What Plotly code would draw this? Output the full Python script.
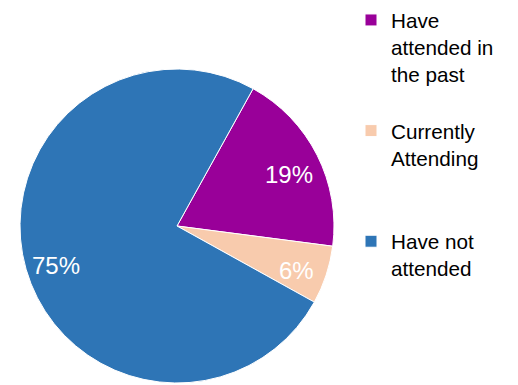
import math
import plotly.graph_objects as go

# Attendance breakdown
categories = ["Have<br>attended in<br>the past", "Currently<br>Attending", "Have not<br>attended"]
shares = [19, 6, 75]
colors = ["#990099", "#F8CBAD", "#2E75B6"]

W, H = 518, 385
ROTATION = 29          # first slice starts 29 degrees clockwise from 12 o'clock
PIE_LEFT, PIE_RIGHT = 20, 334
PIE_TOP, PIE_BOTTOM = 69, 383
LABEL_R = 0.80         # label distance from centre, as a fraction of the radius

# legend entries padded to the same number of lines so they are evenly spaced
n_lines = max(c.count("<br>") + 1 for c in categories) + 1
legend_names = [c + "<br> " * (n_lines - (c.count("<br>") + 1)) for c in categories]

fig = go.Figure(
    go.Pie(
        labels=legend_names,
        values=shares,
        sort=False,
        direction="clockwise",
        rotation=ROTATION,
        marker=dict(colors=colors, line=dict(color="white", width=1)),
        textinfo="none",
        domain=dict(x=[PIE_LEFT / W, PIE_RIGHT / W], y=[1 - PIE_BOTTOM / H, 1 - PIE_TOP / H]),
        hovertemplate="%{label}: %{value}%<extra></extra>",
    )
)

# percentage labels placed along each slice's middle angle
cx = (PIE_LEFT + PIE_RIGHT) / 2
cy = (PIE_TOP + PIE_BOTTOM) / 2
radius = (PIE_RIGHT - PIE_LEFT) / 2
total = sum(shares)
start = 0.0
for v in shares:
    mid = math.radians(ROTATION + 360 * (start + v / 2) / total)
    start += v
    px = cx + LABEL_R * radius * math.sin(mid)
    py = cy - LABEL_R * radius * math.cos(mid)
    fig.add_annotation(
        x=px / W, y=1 - py / H, xref="paper", yref="paper",
        text=f"{v}%", showarrow=False, yshift=-5,
        font=dict(family="Liberation Sans, Arial", size=24, color="white"),
        xanchor="center", yanchor="middle",
    )

fig.update_layout(
    width=W,
    height=H,
    margin=dict(l=0, r=0, t=0, b=0),
    paper_bgcolor="white",
    plot_bgcolor="white",
    showlegend=True,
    legend=dict(
        x=351 / W,
        y=1,
        xanchor="left",
        yanchor="top",
        valign="top",
        font=dict(family="Liberation Sans, Arial", size=20.7, color="#000000"),
        itemwidth=30,
        tracegroupgap=0,
        bgcolor="rgba(0,0,0,0)",
    ),
)

fig.write_html("out.html")
